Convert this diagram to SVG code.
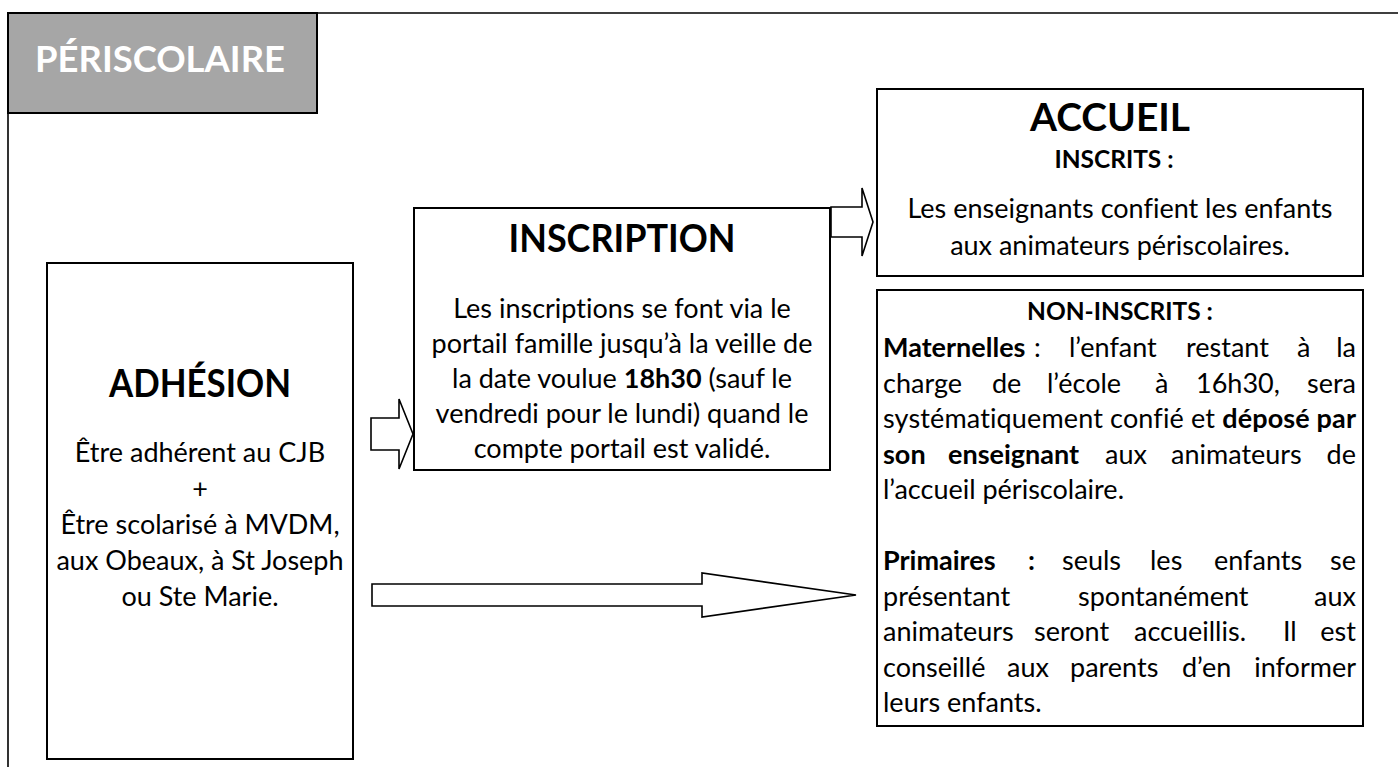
<svg xmlns="http://www.w3.org/2000/svg" width="1398" height="767" viewBox="0 0 1398 767">
<defs>
<style>
text{font-variant-ligatures:none;font-feature-settings:"liga" 0,"dlig" 0}
.box{fill:#fff;stroke:#000;stroke-width:2}
.arr{fill:#fff;stroke:#000;stroke-width:1.6;stroke-linejoin:miter}
.t{font-family:Lato,"Liberation Sans",sans-serif;font-size:27px;fill:#000}
.c{text-anchor:middle}
.b{font-weight:bold}
.ttl{font-family:Lato,"Liberation Sans",sans-serif;font-size:38px;font-weight:bold;fill:#000;text-anchor:middle}
.sub{font-family:Lato,"Liberation Sans",sans-serif;font-size:24.5px;font-weight:bold;fill:#000;text-anchor:middle}
.e{text-anchor:end}
</style>
</defs>
<rect width="1398" height="767" fill="#fff"/>
<g id="frame">
<path d="M8 13 H1398 M8 13 V767" fill="none" stroke="#000" stroke-width="1.6"/>
</g>
<g id="header">
<rect x="8" y="13" width="309" height="100" fill="#a6a6a6" stroke="#000" stroke-width="2"/>
<text x="35" y="72" font-family="Lato,'Liberation Sans',sans-serif" font-size="37" font-weight="bold" fill="#fff" textLength="250" lengthAdjust="spacingAndGlyphs">PÉRISCOLAIRE</text>
</g>
<g id="connectors">
<polygon class="arr" points="371,418 399,418 399,399 413,434 399,469 399,450 371,450"/>
<polygon class="arr" points="831,207 862,207 862,188 873,222 862,256 862,237 831,237"/>
<polygon class="arr" points="372,584 702,584 702,573 856,595 702,617 702,606 372,606"/>
</g>
<g id="adhesion">
<rect class="box" x="47" y="263" width="306" height="496"/>
<text class="ttl" x="200" y="397" textLength="182" lengthAdjust="spacingAndGlyphs">ADHÉSION</text>
<text class="t c" x="200" y="462">Être adhérent au CJB</text>
<text class="t c" x="200" y="498">+</text>
<text class="t c" x="200" y="534">Être scolarisé à MVDM,</text>
<text class="t c" x="200" y="570">aux Obeaux, à St Joseph</text>
<text class="t c" x="200" y="606">ou Ste Marie.</text>
</g>
<g id="inscription">
<rect class="box" x="414" y="208" width="416" height="262"/>
<text class="ttl" x="622" y="252" textLength="227" lengthAdjust="spacingAndGlyphs">INSCRIPTION</text>
<text class="t c" x="622" y="318">Les inscriptions se font via le</text>
<text class="t c" x="622" y="353">portail famille jusqu’à la veille de</text>
<text class="t c" x="622" y="388">la date voulue <tspan class="b">18h30</tspan> (sauf le</text>
<text class="t c" x="622" y="423">vendredi pour le lundi) quand le</text>
<text class="t c" x="622" y="458">compte portail est validé.</text>
</g>
<g id="accueil">
<rect class="box" x="877" y="89" width="486" height="187"/>
<text class="ttl" x="1110" y="131" textLength="160" lengthAdjust="spacingAndGlyphs">ACCUEIL</text>
<text class="sub" x="1114" y="168">INSCRITS :</text>
<text class="t c" x="1120" y="218">Les enseignants confient les enfants</text>
<text class="t c" x="1120" y="255">aux animateurs périscolaires.</text>
</g>
<g id="non-inscrits">
<rect class="box" x="877" y="290" width="486" height="436"/>
<text class="sub" x="1120" y="320">NON-INSCRITS :</text>
<text class="t" y="357"><tspan x="883" class="b">Maternelles</tspan><tspan x="1034">:</tspan><tspan x="1069">l’enfant</tspan><tspan x="1186">restant</tspan><tspan x="1297">à</tspan><tspan x="1356" class="e">la</tspan></text>
<text class="t" y="393"><tspan x="883">charge</tspan><tspan x="992">de</tspan><tspan x="1047">l’école</tspan><tspan x="1155">à</tspan><tspan x="1196">16h30,</tspan><tspan x="1356" class="e">sera</tspan></text>
<text class="t" x="883" y="428" textLength="473" lengthAdjust="spacing">systématiquement confié et <tspan class="b">déposé par</tspan></text>
<text class="t" y="464"><tspan x="883" class="b">son</tspan><tspan x="948" class="b">enseignant</tspan><tspan x="1105">aux</tspan><tspan x="1171">animateurs</tspan><tspan x="1356" class="e">de</tspan></text>
<text class="t" x="883" y="499">l’accueil périscolaire.</text>
<text class="t" y="570"><tspan x="883" class="b">Primaires</tspan><tspan x="1028" class="b">:</tspan><tspan x="1062">seuls</tspan><tspan x="1150">les</tspan><tspan x="1214">enfants</tspan><tspan x="1356" class="e">se</tspan></text>
<text class="t" y="606"><tspan x="883">présentant</tspan><tspan x="1078">spontanément</tspan><tspan x="1356" class="e">aux</tspan></text>
<text class="t" y="641"><tspan x="883">animateurs</tspan><tspan x="1034">seront</tspan><tspan x="1134">accueillis.</tspan><tspan x="1283">Il</tspan><tspan x="1356" class="e">est</tspan></text>
<text class="t" y="677"><tspan x="883">conseillé</tspan><tspan x="1007">aux</tspan><tspan x="1070">parents</tspan><tspan x="1182">d’en</tspan><tspan x="1356" class="e">informer</tspan></text>
<text class="t" x="883" y="712">leurs enfants.</text>
</g>
</svg>
